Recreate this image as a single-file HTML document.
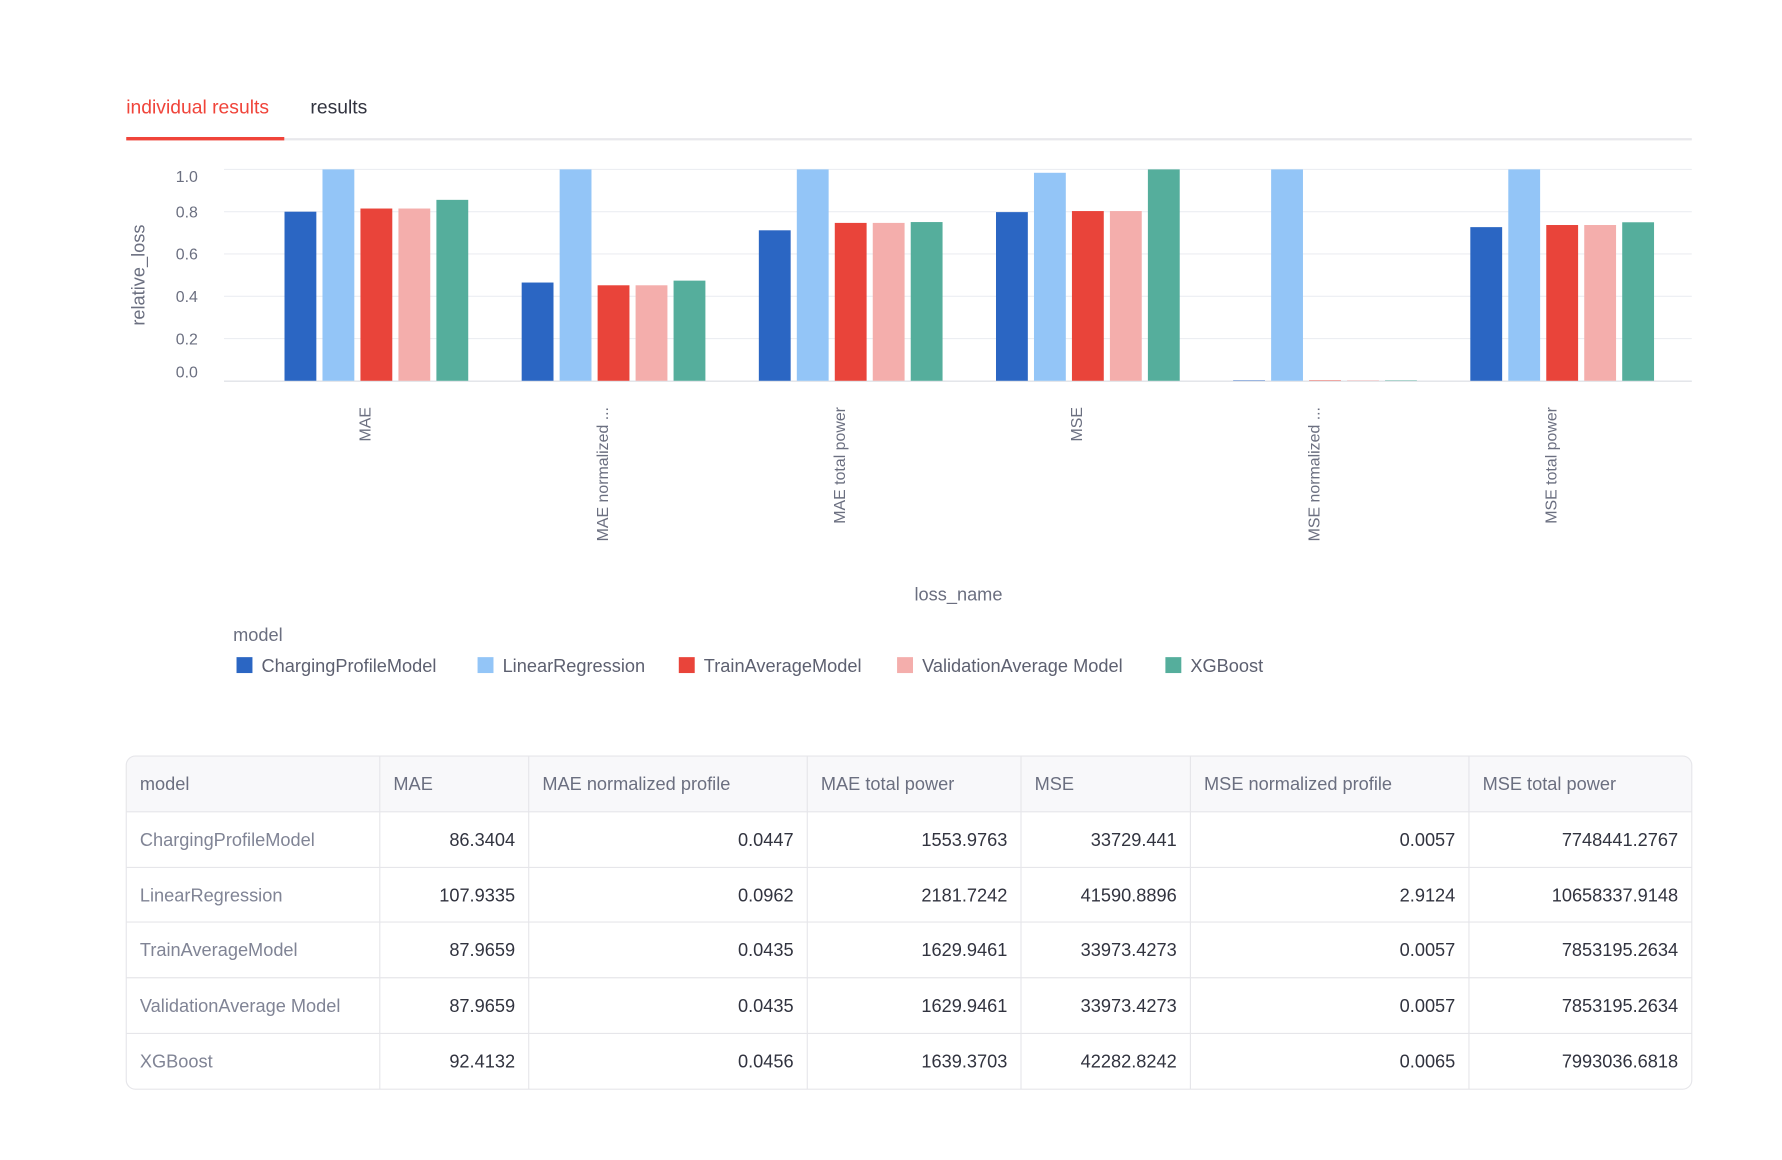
<!DOCTYPE html>
<html><head><meta charset="utf-8"><style>
html,body{margin:0;padding:0;background:#fff;}
svg{display:block;font-family:"Liberation Sans",sans-serif;}
</style></head><body>
<svg id="root" width="1782" height="1160" viewBox="0 0 1567.3 1020.3">
  <g>
    <text x="111" y="100" font-size="17" fill="#f0443a">individual results</text>
    <text x="273" y="100" font-size="17" fill="#31333f">results</text>
    <rect x="111" y="121.5" width="1377" height="2" fill="#e8e8ec"/>
    <rect x="111" y="120.5" width="139" height="3" fill="#f0443a"/>
  </g>
  <g id="chart"></g>
  <g id="table"></g>
</svg>
<script>
const categories = ["MAE","MAE normalized ...","MAE total power","MSE","MSE normalized ...","MSE total power"];
const models = ["ChargingProfileModel","LinearRegression","TrainAverageModel","ValidationAverage Model","XGBoost"];
const colors = ["#2b66c3","#93c5f7","#e9443a","#f4aeac","#55ae9c"];
const chargingValues = [0.800, 0.465, 0.712, 0.798, 0.002, 0.727];
const linearValues = [1.000, 1.000, 1.000, 0.984, 1.000, 1.000];
const trainValues = [0.815, 0.452, 0.747, 0.803, 0.002, 0.737];
const validationValues = [0.815, 0.452, 0.747, 0.803, 0.002, 0.737];
const xgbValues = [0.856, 0.474, 0.751, 1.000, 0.002, 0.750];
const yTicks = [0, 0.2, 0.4, 0.6, 0.8, 1.0];
const yTickLabels = ["0.0","0.2","0.4","0.6","0.8","1.0"];
const series = [chargingValues, linearValues, trainValues, validationValues, xgbValues];

const tableCols = ["model","MAE","MAE normalized profile","MAE total power","MSE","MSE normalized profile","MSE total power"];
const tableRows = [
 ["ChargingProfileModel","86.3404","0.0447","1553.9763","33729.441","0.0057","7748441.2767"],
 ["LinearRegression","107.9335","0.0962","2181.7242","41590.8896","2.9124","10658337.9148"],
 ["TrainAverageModel","87.9659","0.0435","1629.9461","33973.4273","0.0057","7853195.2634"],
 ["ValidationAverage Model","87.9659","0.0435","1629.9461","33973.4273","0.0057","7853195.2634"],
 ["XGBoost","92.4132","0.0456","1639.3703","42282.8242","0.0065","7993036.6818"]
];

const NS="http://www.w3.org/2000/svg";
function mk(tag, attrs, parent){const e=document.createElementNS(NS,tag);for(const k in attrs)e.setAttribute(k,attrs[k]);parent.appendChild(e);return e;}

const chart=document.getElementById('chart');
const plotL=197, plotR=1488, yTop=149, yBot=335;
const y=v=>yBot-(yBot-yTop)*v;
const band0=226.7, bandW=208.6, barW=28, barStep=33.4;
const bandCenter=i=>band0+bandW*(i+0.5);

yTicks.forEach((t,i)=>{
  const g=mk('line',{x1:plotL,x2:plotR,y1:y(t),y2:y(t),stroke:'#eceef2','stroke-width':1},chart);
  
  
  let ly=y(t)+5; if(i===0) ly=y(t)-3; if(i===yTicks.length-1) ly=y(t)+11;
  const tx=mk('text',{x:174,y:ly,'text-anchor':'end','font-size':14,fill:'#6b6f80'},chart);
  tx.textContent=yTickLabels[i];
  
  
});
const yt=mk('text',{x:0,y:0,'text-anchor':'middle','font-size':16,fill:'#6b6f80',transform:'translate(127,242) rotate(-90)'},chart);
yt.textContent='relative_loss';



categories.forEach((c,ci)=>{
  const cx=bandCenter(ci);
  const start=cx-(barStep*4+barW)/2;
  series.forEach((vals,si)=>{
    const v=vals[ci];
    const r=mk('rect',{x:start+si*barStep,y:y(v),width:barW,height:Math.max(yBot-y(v),0.8),fill:colors[si]},chart);
    
    
  });
  const t=mk('text',{x:0,y:0,'text-anchor':'end','font-size':14,fill:'#6b6f80',transform:`translate(${cx-5},358) rotate(-90)`},chart);
  t.textContent=c;
  
  
});
const ax=mk('line',{x1:plotL,x2:plotR,y1:yBot+0.5,y2:yBot+0.5,stroke:'#e4e6ea','stroke-width':1},chart);


const xt=mk('text',{x:843,y:528,'text-anchor':'middle','font-size':16,fill:'#6b6f80'},chart);
xt.textContent='loss_name';



const lt=mk('text',{x:205,y:564,'font-size':16,fill:'#6b6f80'},chart);
lt.textContent='model';


const legX=[208,420,597,789,1025];
models.forEach((m,i)=>{
  const s=mk('rect',{x:legX[i],y:578,width:14,height:14,fill:colors[i]},chart);
  
  
  const t=mk('text',{x:legX[i]+22,y:591,'font-size':16,fill:'#5d6070'},chart);
  t.textContent=m;
  
  
});

const tbl=document.getElementById('table');
const tL=111,tR=1488,tT=665,tB=958;
const colX=[111,334,465,710,898,1047,1292,1488];
const rowY=[665,714,763,811,860,909,958];
const hb=mk('path',{d:`M${tL+8},${tT} H${tR-8} Q${tR},${tT} ${tR},${tT+8} V${rowY[1]} H${tL} V${tT+8} Q${tL},${tT} ${tL+8},${tT} Z`,fill:'#f8f8fa'},tbl);


for(let r=1;r<rowY.length-1;r++){
  const l=mk('line',{x1:tL,x2:tR,y1:rowY[r],y2:rowY[r],stroke:'#e6e6ea'},tbl);
  
  
}
for(let c=1;c<colX.length-1;c++){
  const l=mk('line',{x1:colX[c],x2:colX[c],y1:tT,y2:tB,stroke:'#e6e6ea'},tbl);
  
  
}
const bd=mk('rect',{x:tL,y:tT,width:tR-tL,height:tB-tT,rx:8,fill:'none',stroke:'#e6e6ea'},tbl);


tableCols.forEach((h,c)=>{
  const t=mk('text',{x:colX[c]+12,y:695,'font-size':16,fill:'#6b6f80'},tbl);
  t.textContent=h;
  
  
});
tableRows.forEach((row,r)=>{
  const yy=rowY[r+1]+30;
  row.forEach((v,c)=>{
    const t=c===0?mk('text',{x:colX[0]+12,y:yy,'font-size':16,fill:'#808495'},tbl)
                 :mk('text',{x:colX[c+1]-12,y:yy,'text-anchor':'end','font-size':16,fill:'#31333f'},tbl);
    t.textContent=v;
    
    
  });
});
</script>
</body></html>
